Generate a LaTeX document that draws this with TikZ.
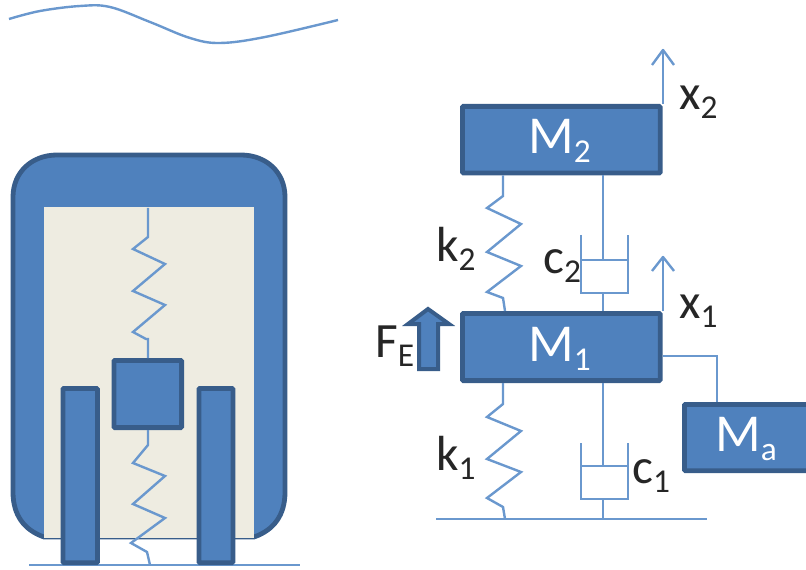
\documentclass[tikz,border=0pt]{standalone}
\usepackage{fontspec}
\setmainfont{Carlito}
\definecolor{bfill}{HTML}{4F81BD}
\definecolor{bdark}{HTML}{385D8A}
\definecolor{bline}{HTML}{6A98CE}
\definecolor{cream}{HTML}{EEECE1}
\definecolor{ink}{HTML}{262626}
\tikzset{
  massbox/.style={draw=bdark,fill=bfill,line width=3.6pt,inner sep=0pt,anchor=north west,rounded corners=0.8pt},
  wire/.style={draw=bline,line width=1.8pt,line join=miter},
  lab/.style={text=ink,font=\fontsize{37}{37}\selectfont,inner sep=0pt,anchor=base west},
  wlab/.style={text=white,font=\fontsize{40}{40}\selectfont,inner sep=0pt,anchor=base west}
}
\newcommand{\sbs}[1]{\raisebox{-6.75pt}{\fontsize{25}{25}\selectfont #1}}
\begin{document}
\begin{tikzpicture}[x=0.75pt,y=-0.75pt]
\useasboundingbox (0,0) rectangle (806,570);
% road
\draw[wire] plot[smooth,tension=0.6] coordinates {(9,19) (40,11) (80,6) (110,7) (150,22) (190,38) (220,43) (265,37) (338,20)};
% car body
\fill[bfill,draw=bdark,line width=3.6pt] (44,537) .. controls (24,530) and (13,515) .. (13,492) -- (13,197) .. controls (13,172) and (32,155) .. (57,155) -- (241,155) .. controls (266,155) and (285,172) .. (285,197) -- (285,492) .. controls (285,515) and (274,530) .. (254,537) -- cycle;
\node[draw=none,fill=cream,minimum width=157.5pt,minimum height=248.25pt,inner sep=0pt,outer sep=0pt,anchor=north west] (cabin) at (44,207) {};
% ground and posts
\coordinate (gl) at (29,565); \coordinate (gr) at (300,565);
\draw[wire] (gl) -- (gr);
\coordinate (sptop) at (148,208);
\coordinate (spbot) at (150,565);
\node[massbox,minimum width=26pt,minimum height=130.7pt] (postl) at (60.5,386) {};
\node[massbox,minimum width=25.5pt,minimum height=130.7pt] (postr) at (196.5,386) {};
\node[massbox,minimum width=50.8pt,minimum height=50.4pt] (mass) at (111.5,358) {};
\draw[wire] (sptop) -- (148,237) -- (133,249) -- (165,264) -- (133,291) -- (165,305) -- (133,332) -- (146,339) -- (148,339) -- (mass.north -| 148,0);
\draw[wire] (mass.south -| 148,0) -- (148,445) -- (133,463) -- (165,476) -- (133,504) -- (165,518) -- (131,543) -- (147,552) -- (spbot);
% right model
\node[massbox,minimum width=148.4pt,minimum height=50pt] (M2) at (460,104) {};
\node[massbox,minimum width=148.4pt,minimum height=50.4pt] (M1) at (460,311) {};
\node[massbox,minimum width=105pt,minimum height=49.7pt] (Ma) at (682,402) {};
\node[wlab] at (528,154) {M\sbs{2}};
\node[wlab] at (528,361) {M\sbs{1}};
\node[wlab] at (715,451) {M\sbs{a}};
\coordinate (g1) at (436,519); \coordinate (g2) at (707,519);
\draw[wire] (g1) -- (g2);
% x arrows
\draw[wire] (M2.north -| 663,0) -- (663,50);
\draw[wire,line join=round] (652,65) -- (663,50) -- (674,65);
\draw[wire] (M1.north -| 663,0) -- (663,257);
\draw[wire,line join=round] (652,271) -- (663,257) -- (674,271);
% springs
\draw[wire] (M2.south -| 503,0) -- (503,196) -- (487,208) -- (521,224) -- (487,252) -- (521,266) -- (487,292) -- (503,298) -- (505,311);
\draw[wire] (M1.south -| 503,0) -- (503,404) -- (487,417) -- (521,431) -- (487,459) -- (521,472) -- (487,498) -- (503,507) -- (505,519);
% dampers
\draw[wire] (M2.south -| 603,0) -- (603,260);
\draw[wire] (581,260) -- (628,260);
\draw[wire] (581,235) -- (581,293) -- (628,293) -- (628,235);
\draw[wire] (603,293) -- (M1.north -| 603,0);
\draw[wire] (M1.south -| 603,0) -- (603,466);
\draw[wire] (581,466) -- (628,466);
\draw[wire] (581,443) -- (581,499) -- (628,499) -- (628,443);
\draw[wire] (603,499) -- (603,519);
% Ma link
\draw[wire] (M1.east |- 0,356) -- (717,356) -- (Ma.north -| 717,0);
% force arrow
\fill[bfill,draw=bdark,line width=3pt,line join=miter] (419,369) -- (419,324) -- (408,324) -- (428,309) -- (449,324) -- (438,324) -- (438,369) -- cycle;
% labels
\node[lab] at (679,110) {x\sbs{2}};
\node[lab] at (679,318) {x\sbs{1}};
\node[lab] at (436,262) {k\sbs{2}};
\node[lab] at (436,470) {k\sbs{1}};
\node[lab] at (543,273) {c\sbs{2}};
\node[lab] at (632,483) {c\sbs{1}};
\node[lab] at (375,357) {F\sbs{E}};
\end{tikzpicture}
\end{document}
